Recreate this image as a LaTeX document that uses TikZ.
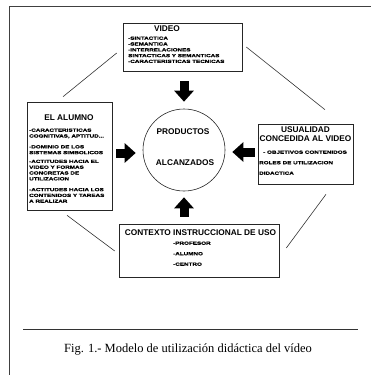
\documentclass[tikz,border=0pt]{standalone}
\usepackage{fontspec}
\setmainfont{Liberation Serif}
\setsansfont{Liberation Sans}
\newfontfamily\tinyfont[FakeStretch=1.4, FakeBold=1]{Liberation Sans}
\usetikzlibrary{calc,arrows.meta}
\begin{document}
\begin{tikzpicture}[x=1pt, y=-1pt,
  box/.style={draw=black!85, line width=0.6pt, inner sep=0pt},
  title/.style={font=\sffamily\bfseries\fontsize{8.3}{9}\selectfont, inner sep=0pt, align=center},
  items/.style={font=\tinyfont\bfseries\fontsize{4.5}{5.8}\selectfont, inner sep=0pt, align=left, anchor=north west},
  wideitems/.style={items, font=\tinyfont\bfseries\fontsize{4.5}{10.5}\selectfont},
  link/.style={draw=black!80, line width=0.6pt},
  fat/.style={line width=9pt, -{Triangle[length=11pt, width=19pt]}}
]
\useasboundingbox (0,0) rectangle (371,375);
\draw[black!75, line width=0.8pt] (9,377) -- (9,6) -- (373,6);

\node[box, minimum width=119pt, minimum height=48pt] (video) at (182.5,47) {};
\node[box, minimum width=85pt, minimum height=108pt] (alumno) at (69.5,156) {};
\node[box, minimum width=95pt, minimum height=60pt] (usual) at (305.5,154) {};
\node[box, minimum width=160pt, minimum height=53pt] (contexto) at (199,250.5) {};
\node[circle, draw=black!85, line width=0.6pt, minimum size=82pt] (prod) at (184,150) {};

\node[title] (videot) at (167,29) {VIDEO};
\node[items] (videol) at (128,36.4) {-SINTACTICA\\-SEMANTICA\\-INTERRELACIONES\\SINTACTICAS Y SEMANTICAS\\-CARACTERISTICAS TECNICAS};
\node[title] (alumnot) at (69,118) {EL ALUMNO};
\node[items] (alumnol) at (29,128.4) {-CARACTERISTICAS\\COGNITIVAS, APTITUD...\\[5pt]
  -DOMINIO DE LOS\\SISTEMAS SIMBOLICOS\\[3pt]
  -ACTITUDES HACIA EL\\VIDEO Y FORMAS\\CONCRETAS DE\\UTILIZACION\\[5pt]
  -ACTITUDES HACIA LOS\\CONTENIDOS Y TAREAS\\A REALIZAR};
\node[title] (usualt) at (305.5,134.5) {USUALIDAD\\CONCEDIDA AL VIDEO};
\node[wideitems] (usuall) at (259,150.4) {\hspace*{4pt}- OBJETIVOS CONTENIDOS\\ROLES DE UTILIZACION\\DIDACTICA};
\node[title] (contextot) at (200.5,233) {CONTEXTO INSTRUCCIONAL DE USO};
\node[wideitems] (contextol) at (173,241.4) {-PROFESOR\\-ALUMNO\\-CENTRO};
\node[title] (prodt) at (183,132) {PRODUCTOS};
\node[title] (prodb) at (185,163) {ALCANZADOS};

\draw[link] ($(video.west)+(-6,6)$) -- ($(alumno.north)+(-6.5,-5)$);
\draw[link] ($(video.east)+(4,0)$) -- ($(usual.north)+(19.5,-14)$);
\draw[link] ($(alumno.south)+(-2.5,5)$) -- ($(contexto.west)+(-4,0.5)$);
\draw[link] ($(usual.south)+(20.5,10)$) -- ($(contexto.east)+(7,-2.5)$);

\draw[fat, shorten <=10pt, shorten >=7pt] (video.south -| prod.north) -- (prod.north);
\draw[fat, shorten <=7pt, shorten >=6pt] (contexto.north -| prod.south) -- (prod.south);
\draw[fat] ($(alumno.east |- prod.west)+(4,3)$) -- ($(prod.west)+(-7,3)$);
\draw[fat] ($(usual.west |- prod.east)+(-3,2)$) -- ($(prod.east)+(7,2)$);

\draw[black!80, line width=1pt] (23,329) -- (358,329);
\node[font=\fontsize{12.5}{14}\selectfont, inner sep=0pt] (caption) at (188,349) {Fig. 1.- Modelo de utilización didáctica del vídeo};
\end{tikzpicture}
\end{document}
